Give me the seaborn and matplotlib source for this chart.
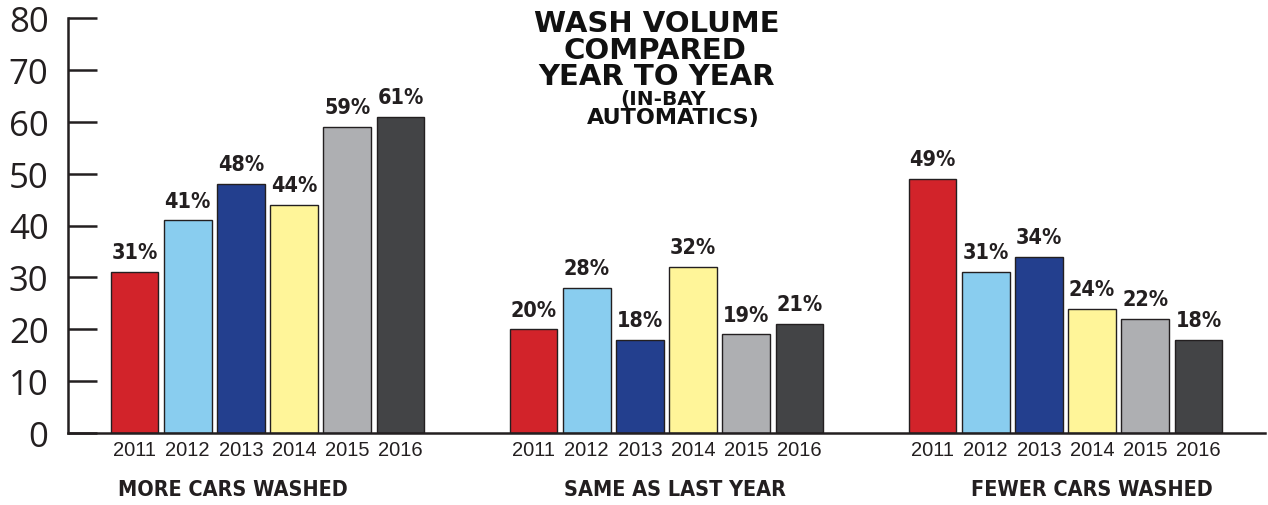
import matplotlib
matplotlib.use("Agg")
import matplotlib.pyplot as plt
from matplotlib import font_manager
import seaborn as sns
import pandas as pd
import numpy as np

# ---- data ----
groups = ["MORE CARS WASHED", "SAME AS LAST YEAR", "FEWER CARS WASHED"]
years = ["2011", "2012", "2013", "2014", "2015", "2016"]
more_cars = [31, 41, 48, 44, 59, 61]
same_cars = [20, 28, 18, 32, 19, 21]
fewer_cars = [49, 31, 34, 24, 22, 18]
y_ticks = [0, 10, 20, 30, 40, 50, 60, 70, 80]
title_lines = ["WASH VOLUME", "COMPARED", "YEAR TO YEAR", "(IN-BAY", "AUTOMATICS)"]

# ---- styles ----
colors = ["#d2232a", "#89cdef", "#233f8e", "#fff599", "#aeafb2", "#434446"]
ink = "#231f20"

rows = []
for g, vals in zip(groups, [more_cars, same_cars, fewer_cars]):
    for y, v in zip(years, vals):
        rows.append({"group": g, "year": y, "value": v})
df = pd.DataFrame(rows)

sns.set_theme(style="white")
plt.rcParams["font.family"] = ["Liberation Sans", "DejaVu Sans"]

# condensed bold font if available
cond_props = dict(family="DejaVu Sans", stretch="condensed", weight="bold")
has_cond = any(("Condensed" in f.fname or "Narrow" in f.fname) and f.name == "DejaVu Sans"
               for f in font_manager.fontManager.ttflist)

fig = plt.figure(figsize=(12.68, 5.06), dpi=100)
ax = fig.add_axes([68 / 1268, 1 - 434 / 506, (1265 - 68) / 1268, (434 - 19) / 506])

sns.barplot(data=df, x="group", y="value", hue="year", order=groups, hue_order=years,
            palette=dict(zip(years, colors)), width=0.8, gap=0.1, saturation=1,
            edgecolor=ink, linewidth=1.0, legend=False, ax=ax)

ax.set_xlim(-0.5, 2.5)
ax.set_ylim(0, 80)
ax.set_xlabel("")
ax.set_ylabel("")

val_fs = 15.5 if has_cond else 13
grp_fs = 15.5 if has_cond else 12.5

# value labels
for cont in ax.containers:
    ax.bar_label(cont, fmt="%g%%", padding=7, fontsize=val_fs, color=ink, **cond_props)

# year labels under each bar
centers, labels = [], []
for cont, yr in zip(ax.containers, years):
    for p in cont.patches:
        centers.append(p.get_x() + p.get_width() / 2)
        labels.append(yr)
ax.set_xticks(centers)
ax.set_xticklabels(labels, fontsize=14.5, color=ink)
ax.tick_params(axis="x", which="major", length=0, pad=5)
ax.set_xticks([0.5, 1.5, 2.5], minor=True)
ax.tick_params(axis="x", which="minor", direction="in", length=7, width=1.8, color=ink)

# y axis
ax.set_yticks(y_ticks)
ax.set_yticklabels([str(t) for t in y_ticks], fontsize=25, color=ink, family=["Open Sans", "DejaVu Sans"])
ax.tick_params(axis="y", direction="in", length=21, width=1.8, color=ink, pad=14, left=True)

for s in ["top", "right"]:
    ax.spines[s].set_visible(False)
for s in ["left", "bottom"]:
    ax.spines[s].set_color(ink)
    ax.spines[s].set_linewidth(1.8)

# group labels
label_dx = [-25, 6, 19]
for i, (g, dx) in enumerate(zip(groups, label_dx)):
    ax.annotate(g, xy=(i, 0), xycoords=("data", "axes fraction"), xytext=(dx, -40),
                textcoords="offset points", ha="center", va="center",
                fontsize=grp_fs, color=ink, **cond_props)

# title
title_y = [24, 51, 77, 99, 118]
title_x = [657, 655, 657, 663, 673]
title_fs = [21, 21, 21, 14.5, 16]
for t, xx, yy, fs in zip(title_lines, title_x, title_y, title_fs):
    fig.text(xx / 1268, 1 - yy / 506, t, ha="center", va="center",
             fontsize=fs, fontweight="heavy", family=["DejaVu Sans"], color="#111111")

fig.savefig("out.png", dpi=100, facecolor="white")
